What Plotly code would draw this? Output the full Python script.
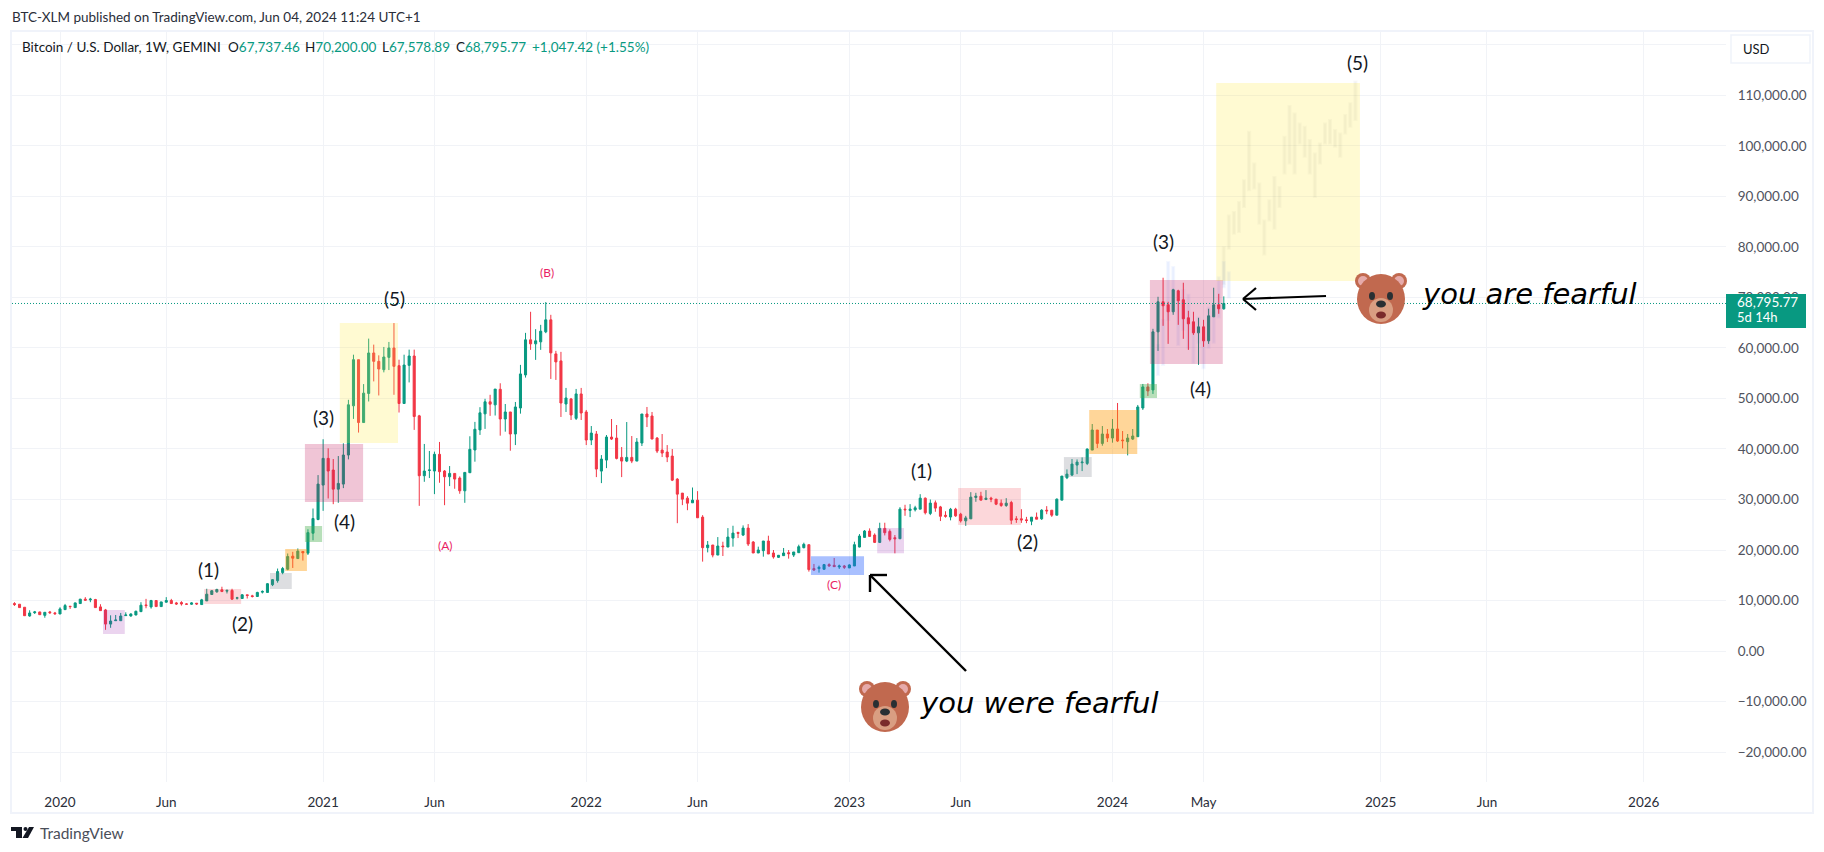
import pandas as pd
import plotly.graph_objects as go

# weekly candles, first bar is the week of 4 Nov 2019
first_bar = pd.Timestamp("2019-11-04")
bar_open = [
    9400, 9270, 8670, 6940, 7600, 7740, 7070, 7740, 7540, 7340,
    8200, 8870, 8600, 9400, 10270, 10130, 10200, 8740, 8140, 5340,
    6010, 6010, 7010, 6940, 7140, 7800, 9130, 8740, 10000, 8800,
    9670, 10000, 9530, 9600, 9330, 9270, 9470, 9200, 9930, 11200,
    11730, 12130, 11860, 12000, 10470, 10400, 11130, 10930, 10800, 11660,
    11600, 13130, 13930, 15530, 16200, 18780, 18310, 19710, 19380, 23320,
    26030, 32850, 38140, 35830, 32050, 33050, 38800, 48540, 57670, 45230,
    50990, 59000, 57340, 55690, 58130, 59990, 56480, 49000, 56550, 58400,
    46550, 34700, 35760, 35630, 38940, 35630, 34500, 35160, 34240, 31720,
    35300, 39800, 43770, 46950, 49330, 48730, 51810, 45930, 47320, 42960,
    48110, 54650, 61600, 60800, 61200, 63180, 65560, 58820, 57430, 48900,
    49900, 46060, 50890, 47320, 41770, 42960, 35620, 37800, 42360, 42160,
    38330, 37600, 38330, 37600, 41170, 46920, 46530, 42160, 39780, 39390,
    38590, 34030, 31260, 30260, 29340, 29870, 26510, 20460, 20990, 19000,
    20790, 20590, 22360, 23480, 22960, 24340, 21580, 19410, 19870, 21780,
    19410, 18550, 18880, 19470, 19000, 19470, 20460, 21050, 16320, 16320,
    16190, 17110, 16970, 16640, 16840, 16450, 16840, 20590, 22500, 23750,
    22960, 21510, 24280, 23680, 22430, 22230, 28090, 27830, 27960, 28090,
    30260, 27240, 29340, 28530, 26870, 26530, 28080, 27090, 25770, 26170,
    30400, 30660, 30000, 30260, 30070, 29270, 28810, 29400, 26170, 26170,
    25970, 25700, 26500, 26170, 27880, 27880, 26890, 29870, 34300, 34830,
    36810, 37270, 37140, 39780, 43750, 41100, 42960, 42160, 43950, 41770,
    41440, 41960, 42430, 48110, 52280, 51680, 63180, 69130, 68540, 67150,
    71310, 69530, 65960, 65170, 62980, 64170, 61400, 66150, 68540, 67737.46,
]
bar_high = [
    9670, 9270, 8670, 8070, 7940, 7770, 7670, 7940, 7740, 8670,
    9330, 8870, 9600, 10330, 10670, 10530, 10330, 9270, 8340, 7070,
    7140, 7540, 7670, 7470, 8000, 9670, 10330, 10130, 10000, 9730,
    10670, 10330, 9730, 9870, 9470, 9670, 9470, 10330, 12330, 12060,
    12330, 12730, 12190, 12330, 10730, 11260, 11130, 11130, 11730, 12000,
    13460, 14260, 16330, 16650, 19310, 19640, 20310, 19710, 24100, 28210,
    34830, 41920, 40130, 38010, 38600, 41120, 49730, 58660, 57670, 52840,
    61840, 60650, 58530, 60190, 61180, 64920, 57670, 58660, 59660, 59660,
    46750, 40990, 39600, 39470, 41390, 35830, 36620, 35160, 34570, 35360,
    42510, 45360, 48270, 49930, 50720, 51850, 53000, 48900, 47320, 49300,
    56640, 62980, 67150, 63710, 64570, 69070, 66550, 59420, 59220, 52080,
    50090, 51880, 52080, 47720, 44540, 43550, 38790, 42760, 45930, 44740,
    40380, 45330, 42560, 42160, 46920, 48310, 47320, 42360, 42960, 40770,
    39980, 34230, 31260, 30660, 32370, 31650, 26900, 21780, 20990, 22560,
    21640, 24340, 24800, 23610, 24870, 25130, 21780, 20660, 21780, 22830,
    20000, 19020, 20400, 20000, 19610, 21050, 21450, 21050, 17240, 16910,
    17240, 17370, 18420, 17110, 17040, 17170, 21640, 23150, 23950, 24280,
    23290, 25400, 25400, 24080, 22960, 28480, 28950, 29080, 28750, 31050,
    30390, 30000, 29800, 28730, 27670, 28330, 28350, 27360, 26760, 31450,
    31320, 31520, 31850, 30530, 30070, 30000, 30260, 29740, 26700, 28080,
    26560, 26500, 27420, 28080, 28680, 27880, 30200, 34630, 35950, 38000,
    37930, 38330, 40110, 44940, 43750, 44540, 43950, 45930, 49100, 43550,
    42960, 43950, 48710, 52870, 53000, 63780, 70120, 73890, 69130, 71710,
    71510, 72900, 67350, 67150, 65960, 65560, 67750, 71910, 70710, 70200,
]
bar_low = [
    8930, 8600, 7000, 6800, 7340, 7200, 6600, 7340, 7140, 7340,
    8140, 8340, 8600, 9400, 10000, 9670, 8600, 8000, 4200, 4600,
    6000, 6010, 7010, 6800, 7070, 7740, 8470, 8400, 8800, 8800,
    9600, 9330, 9130, 9000, 9200, 9130, 9130, 9130, 9930, 11130,
    11530, 11660, 11400, 10130, 10200, 10330, 10400, 10600, 10730, 11400,
    11530, 12860, 13530, 15200, 16000, 16450, 18310, 17910, 19010, 21920,
    25900, 27750, 30200, 29070, 29340, 32250, 37940, 45950, 43240, 45230,
    49400, 53370, 50590, 55160, 55620, 50720, 47210, 49000, 53170, 43770,
    28740, 33500, 34240, 31060, 33310, 28870, 32650, 32120, 31130, 29340,
    35300, 37480, 42780, 43970, 46550, 46620, 42630, 43420, 39650, 40770,
    46990, 54130, 59610, 57630, 59610, 62920, 53860, 53660, 46330, 47320,
    45730, 45730, 45730, 40770, 40770, 34430, 33240, 36210, 41770, 37930,
    34430, 37400, 37200, 37600, 40580, 44340, 41960, 39190, 38400, 37400,
    33640, 25310, 28880, 27880, 29340, 26380, 17700, 19530, 18550, 19000,
    18810, 20590, 20660, 22360, 22760, 20790, 19410, 19410, 18680, 19210,
    18290, 18420, 18810, 18290, 18620, 19470, 20330, 15720, 15850, 15520,
    16120, 16710, 16710, 16250, 16250, 16450, 16840, 20530, 22500, 22690,
    21380, 21380, 22890, 21710, 19340, 22230, 26770, 26510, 27630, 28090,
    27040, 26910, 27570, 25730, 26400, 25870, 26560, 25440, 24780, 26170,
    29540, 29870, 29870, 29470, 28880, 28540, 28540, 25110, 25370, 25370,
    25310, 24910, 26100, 25970, 27090, 26560, 26890, 29870, 34030, 34630,
    35020, 35620, 36810, 39780, 40180, 40640, 41370, 41240, 41370, 40110,
    38730, 41770, 42430, 47720, 50490, 50890, 59410, 64370, 60800, 66550,
    64570, 61800, 59610, 62580, 56640, 60210, 60800, 66150, 66750, 67578.89,
]
bar_close = [
    9200, 8600, 7000, 7540, 7740, 7200, 7670, 7600, 7400, 8340,
    9000, 8800, 9530, 10270, 10070, 10270, 8600, 8000, 5340, 5940,
    6140, 6940, 7140, 7340, 7870, 9070, 9000, 10000, 8800, 9730,
    10000, 9400, 9330, 9330, 9270, 9530, 9330, 10130, 11260, 11930,
    12190, 11800, 12000, 10270, 10530, 11130, 11000, 10800, 11600, 11800,
    13330, 14130, 15730, 16330, 18710, 18380, 19780, 19440, 23440, 26230,
    33050, 38140, 35630, 32050, 33180, 38800, 48740, 57670, 45230, 51050,
    59000, 57340, 55820, 58200, 59990, 56350, 49000, 56610, 58400, 46420,
    34700, 35630, 35830, 38940, 35500, 34500, 35160, 34040, 31720, 35360,
    39930, 43900, 47150, 49330, 48870, 51850, 45930, 47320, 42960, 48310,
    54850, 61600, 60800, 61400, 63310, 65560, 59020, 57230, 49100, 50090,
    46720, 50890, 47120, 41770, 43150, 36020, 38000, 42360, 41960, 38130,
    37600, 38330, 37600, 41370, 46920, 46330, 41960, 39580, 39190, 38400,
    33830, 31060, 30070, 29270, 29870, 26380, 20460, 20990, 19000, 20790,
    20660, 22560, 23350, 23290, 24340, 21180, 19410, 20000, 21780, 19210,
    18620, 18950, 19410, 19280, 19610, 20660, 21120, 16120, 16060, 16580,
    17110, 16840, 16710, 16840, 16580, 17040, 21050, 22760, 23750, 22690,
    21510, 24280, 23420, 22100, 22230, 28090, 27960, 28090, 28350, 30260,
    27370, 29280, 28290, 26670, 26670, 28070, 26760, 25770, 26360, 30460,
    30660, 29870, 30260, 30070, 29070, 28810, 29270, 25900, 26030, 25970,
    25840, 26500, 26100, 27880, 27750, 26890, 30070, 34630, 35020, 37010,
    37400, 37400, 39980, 43750, 41100, 42960, 42160, 43950, 41570, 41640,
    42160, 42560, 48310, 52280, 51480, 63180, 69130, 68340, 67150, 71510,
    69330, 65760, 64770, 62980, 64170, 61400, 66350, 68540, 67750, 68795.77,
]

# faint copied price patterns (low/high of each week)
ghost_start = pd.Timestamp("2024-06-03")
ghost_low = [
    72660, 79610, 82590, 82920, 87890, 91200, 91530, 84580, 78490, 85240,
    83590, 87890, 94510, 96490, 94510, 100470, 97820, 94510, 89880, 96490,
    100470, 100470, 99800, 97820, 102450, 103780, 105100,
]
ghost_high = [
    79950, 86230, 86900, 88880, 93190, 102780, 96490, 92520, 85240, 89210,
    93850, 91860, 101790, 107880, 106420, 104440, 103780, 101130, 98480, 100470,
    104440, 105100, 103120, 102450, 106090, 108410, 112710,
]
echo_start = pd.Timestamp("2024-03-04")
echo_low = [54640, 56620, 65530, 69490, 60580, 63550, 60000, 57000, 61000, 56000, 60000, 61000, 66000, 72000, 70000]
echo_high = [60580, 65530, 77000, 76000, 69490, 71460, 70500, 64000, 66000, 62000, 68000, 67000, 74000, 77000, 75000]

# the 120,000 line has no visible label, the USD button sits on it
price_ticks = [120000, 110000, 100000, 90000, 80000, 70000, 60000, 50000, 40000, 30000, 20000, 10000, 0, -10000, -20000]
price_labels = ["", "110,000.00", "100,000.00", "90,000.00", "80,000.00", "70,000.00", "60,000.00",
                "50,000.00", "40,000.00", "30,000.00", "20,000.00", "10,000.00", "0.00", "−10,000.00", "−20,000.00"]
time_ticks = ["2020-01-06", "2020-06-01", "2021-01-04", "2021-06-07", "2022-01-03", "2022-06-06", "2023-01-02",
              "2023-06-05", "2024-01-01", "2024-05-06", "2025-01-06", "2025-06-02", "2026-01-05"]
time_labels = ["2020", "Jun", "2021", "Jun", "2022", "Jun", "2023", "Jun", "2024", "May", "2025", "Jun", "2026"]
last_price = 68795.77

UP = "#089981"
DOWN = "#F23645"
GRID = "#f1f3f7"
FONT = "Lato"

# zones: first week, last week (counted from 6 Jan 2020), low, high, fill
zones = [
    (8.5, 12.8, 3380, 8130, "rgba(156,39,176,0.2)"),
    (28.5, 35.8, 9310, 12280, "rgba(242,54,69,0.2)"),
    (41.5, 45.8, 12280, 15450, "rgba(120,123,134,0.25)"),
    (44.5, 48.8, 15840, 20200, "rgba(255,152,0,0.4)"),
    (48.4, 51.8, 21580, 24750, "rgba(76,175,80,0.4)"),
    (48.4, 59.9, 29500, 40980, "rgba(194,24,91,0.25)"),
    (55.3, 66.8, 41180, 64920, "rgba(255,235,59,0.23)"),
    (148.4, 158.9, 15050, 18750, "rgba(41,98,255,0.4)"),
    (161.5, 166.8, 19350, 24350, "rgba(156,39,176,0.2)"),
    (177.5, 189.9, 24950, 32270, "rgba(242,54,69,0.2)"),
    (198.4, 203.9, 34450, 38400, "rgba(120,123,134,0.25)"),
    (203.4, 212.9, 39000, 47700, "rgba(255,152,0,0.4)"),
    (213.4, 216.8, 50080, 52850, "rgba(76,175,80,0.4)"),
    (215.4, 229.8, 56800, 73420, "rgba(194,24,91,0.25)"),
    (228.5, 256.9, 73240, 112420, "rgba(255,235,59,0.23)"),
]


def week(i):
    return pd.Timestamp("2020-01-06") + pd.Timedelta(days=7 * i)


# the plot area sits at these pixels of the page
L, R, T, B = 12, 1726, 31, 782


def px(x, y):
    return (x - L) / (R - L), 1 - (y - T) / (B - T)


def text(fig, x, y, s, size=13, color="#131722", anchor="left", **kw):
    xp, yp = px(x, y)
    fig.add_annotation(xref="paper", yref="paper", x=xp, y=yp, text=s, showarrow=False, xanchor=anchor,
                       yanchor="middle", font=dict(family=kw.pop("family", FONT), size=size, color=color), **kw)


def seg(fig, x0, y0, x1, y1, color="#000000", width=2.2):
    a, b = px(x0, y0)
    c, d = px(x1, y1)
    fig.add_shape(type="line", xref="paper", yref="paper", x0=a, y0=b, x1=c, y1=d, line=dict(color=color, width=width))


def blob(fig, cx, cy, rx, ry, color):
    a, b = px(cx - rx, cy - ry)
    c, d = px(cx + rx, cy + ry)
    fig.add_shape(type="circle", xref="paper", yref="paper", x0=a, y0=b, x1=c, y1=d, fillcolor=color, line_width=0)


def bear(fig, cx, cy):
    for side in (-1, 1):
        blob(fig, cx + side * 18, cy - 18, 8, 8, "#C1694F")
        blob(fig, cx + side * 18, cy - 18, 5, 5, "#E6AAAA")
    blob(fig, cx, cy, 24, 25, "#C1694F")
    blob(fig, cx, cy + 11, 12, 12, "#D99E82")
    for side in (-1, 1):
        blob(fig, cx + side * 9, cy - 3, 3, 4, "#292F33")
    blob(fig, cx, cy + 5, 5, 3.5, "#292F33")
    blob(fig, cx, cy + 16, 5, 3.5, "#7a2b2b")


def candles(x, o, h, l, c, up, down, width=1):
    return go.Candlestick(x=x, open=o, high=h, low=l, close=c, hoverinfo="skip", showlegend=False, whiskerwidth=0,
                          increasing=dict(line=dict(color=up, width=width), fillcolor=up),
                          decreasing=dict(line=dict(color=down, width=width), fillcolor=down))


bar_dates = pd.date_range(first_bar, periods=len(bar_close), freq="7D")
ghost_dates = pd.date_range(ghost_start, periods=len(ghost_low), freq="7D")
echo_dates = pd.date_range(echo_start, periods=len(echo_low), freq="7D")

fig = go.Figure()
fig.add_trace(candles(echo_dates, echo_low, echo_high, echo_low, echo_high,
                      "rgba(41,98,255,0.05)", "rgba(41,98,255,0.05)", 2))
fig.add_trace(candles(ghost_dates, ghost_low, ghost_high, ghost_low, ghost_high,
                      "rgba(90,100,110,0.045)", "rgba(90,100,110,0.045)", 2))
fig.add_trace(candles(bar_dates, bar_open, bar_high, bar_low, bar_close, UP, DOWN))

for start, end, low, high, fill in zones:
    fig.add_shape(type="rect", x0=week(start), x1=week(end), y0=low, y1=high, fillcolor=fill, line_width=0)

fig.add_shape(type="line", xref="paper", x0=0, x1=1, y0=last_price, y1=last_price,
              line=dict(color=UP, width=1, dash="1px,2px"))

# chart frame
a, b = px(11, 31)
c, d = px(1813, 813)
fig.add_shape(type="rect", xref="paper", yref="paper", x0=a, y0=b, x1=c, y1=d, line=dict(color="#f0f3fa", width=2))

# USD button and price tag
a, b = px(1731, 35)
c, d = px(1810, 63)
fig.add_shape(type="rect", xref="paper", yref="paper", x0=a, y0=b, x1=c, y1=d, fillcolor="white",
              line=dict(color="#f0f3fa", width=1.5))
text(fig, 1741, 49, "USD", 13)
a, b = px(1726, 294)
c, d = px(1806, 328)
fig.add_shape(type="rect", xref="paper", yref="paper", x0=a, y0=b, x1=c, y1=d, fillcolor=UP, line_width=0)
text(fig, 1735, 302, "68,795.77", 13.5, "white")
text(fig, 1735, 317, "5d 14h", 13, "white")

# header
text(fig, 10, 17, "BTC-XLM published on TradingView.com, Jun 04, 2024 11:24 UTC+1", 13.5, "#2a2e39")
text(fig, 20, 47, "Bitcoin / U.S. Dollar, 1W, GEMINI", 13.5, "#131722")
for x, head, val in [(226, "O", "67,737.46"), (303, "H", "70,200.00"), (380, "L", "67,578.89"), (454, "C", "68,795.77")]:
    text(fig, x, 47, f'{head}<span style="color:{UP}">{val}</span>', 13.5)
text(fig, 530, 47, "+1,047.42 (+1.55%)", 13.5, UP)

# wave counts
for x, y, s in [(208, 569, "(1)"), (243, 623, "(2)"), (323, 418, "(3)"), (344, 521, "(4)"), (394, 298, "(5)"),
                (921, 471, "(1)"), (1027, 541, "(2)"), (1163, 241, "(3)"), (1200, 389, "(4)"), (1357, 63, "(5)")]:
    text(fig, x, y, s, 19, "#131722", "center")
for x, y, s in [(445, 545, "(A)"), (547, 272, "(B)"), (834, 584, "(C)")]:
    text(fig, x, y, s, 12, "#e91e63", "center")

# arrows and notes
seg(fig, 966, 671, 870, 575, width=2.4)
seg(fig, 870, 575, 887, 575, width=2.4)
seg(fig, 870, 575, 870, 592, width=2.4)
seg(fig, 1326, 296, 1243, 299)
seg(fig, 1243, 299, 1256, 288)
seg(fig, 1243, 299, 1256, 310)
bear(fig, 885, 707)
bear(fig, 1381, 299)
text(fig, 918, 703, "<i>you were fearful</i>", 29, "#000000", family="DejaVu Sans")
text(fig, 1420, 294, "<i>you are fearful</i>", 29, "#000000", family="DejaVu Sans")

# logo
for x0, y0, x1, y1 in [(11, 827, 22, 831), (16, 827, 22, 838)]:
    a, b = px(x0, y0)
    c, d = px(x1, y1)
    fig.add_shape(type="rect", xref="paper", yref="paper", x0=a, y0=b, x1=c, y1=d, fillcolor="#131722", line_width=0)
blob(fig, 25.5, 829, 2, 2, "#131722")
p = [px(29, 827), px(34, 827), px(28, 838), px(22.5, 838)]
fig.add_shape(type="path", xref="paper", yref="paper", fillcolor="#131722", line_width=0,
              path="M" + " L".join(f"{u},{v}" for u, v in p) + " Z")
text(fig, 38, 833, "TradingView", 15.5, "#4a4e59")

fig.update_layout(
    width=1824, height=852, autosize=False,
    margin=dict(l=L, r=1824 - R, t=T, b=852 - B, pad=0),
    paper_bgcolor="white", plot_bgcolor="white", showlegend=False, boxgap=0.42,
    font=dict(family=FONT, size=13, color="#131722"),
    xaxis=dict(type="date", range=[week(-9.486), week(329.25)], rangeslider=dict(visible=False),
               tickvals=time_ticks, ticktext=time_labels, showgrid=True, gridcolor=GRID, gridwidth=1,
               ticks="outside", ticklen=8, tickcolor="rgba(0,0,0,0)", zeroline=False, showline=False,
               tickangle=0, tickfont=dict(family=FONT, size=13.5, color="#2a2e39")),
    yaxis=dict(side="right", range=[-25918, 122727], tickvals=price_ticks, ticktext=price_labels,
               showgrid=True, gridcolor=GRID, gridwidth=1, ticks="outside", ticklen=8,
               tickcolor="rgba(0,0,0,0)", zeroline=False, showline=False,
               tickfont=dict(family=FONT, size=13.5, color="#50535e")),
)

fig.write_html("out.html", config=dict(displayModeBar=False),
               post_script="document.body.style.margin='0';document.body.style.overflow='hidden';")
